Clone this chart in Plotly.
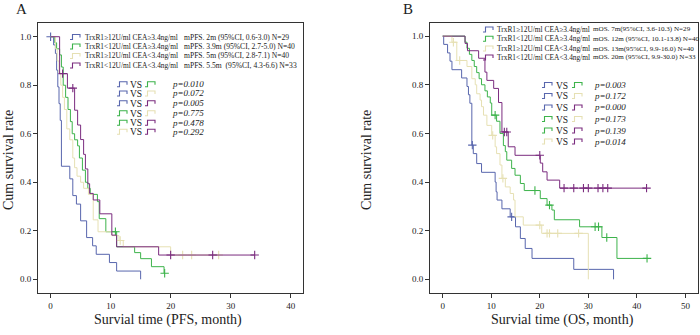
import plotly.graph_objects as go

W, H = 700, 335

# ---------------- DATA ----------------
series_names = ["TrxR1\u226512U/ml CEA\u22653.4ng/ml", "TrxR1<12U/ml CEA\u22653.4ng/ml",
                "TrxR1\u226512U/ml CEA<3.4ng/ml", "TrxR1<12U/ml CEA<3.4ng/ml"]
pfs_stats = ["mPFS. 2m (95%CI, 0.6-3.0) N=29", "mPFS. 3.9m (95%CI, 2.7-5.0) N=40",
             "mPFS. 5m (95%CI, 2.8-7.1) N=40", "mPFS. 5.5m  (95%CI, 4.3-6.6) N=33"]
os_stats = ["mOS. 7m(95%CI, 3.6-10.3) N=29", "mOS. 12m (95%CI, 10.1-13.8) N=40",
            "mOS. 13m(95%CI, 9.9-16.0) N=40", "mOS. 20m (95%CI, 9.9-30.0) N=33"]
pairs = [(0, 1), (0, 2), (0, 3), (1, 2), (1, 3), (2, 3)]
pfs_p = ["p=0.010", "p=0.072", "p=0.005", "p=0.775", "p=0.478", "p=0.292"]
os_p = ["p=0.003", "p=0.172", "p=0.000", "p=0.173", "p=0.139", "p=0.014"]

# PFS curves
pfs_blue_t = [0, 0.5, 0.8, 1.0, 1.2, 1.4, 1.6, 1.8, 3.2, 3.7, 4.3, 5.0, 6.0, 7.0, 7.6, 9.8, 11.0, 15.0]
pfs_blue_s = [1.0, 0.966, 0.931, 0.862, 0.793, 0.724, 0.655, 0.466, 0.414, 0.345, 0.310, 0.241, 0.172, 0.138, 0.103, 0.069, 0.034, 0.0]
pfs_blue_c = [0]
pfs_green_t = [0, 0.7, 1.0, 1.5, 1.8, 2.1, 2.5, 2.9, 3.3, 3.6, 4.0, 4.5, 4.8, 5.3, 5.8, 6.2, 6.6, 7.8, 8.1, 9.2, 11.0, 14.0, 15.0, 16.8, 18.9]
pfs_green_s = [1.0, 0.975, 0.95, 0.925, 0.875, 0.8, 0.75, 0.7, 0.65, 0.6, 0.575, 0.55, 0.5, 0.45, 0.4, 0.375, 0.35, 0.32, 0.25, 0.196, 0.134, 0.11, 0.085, 0.052, 0.025]
pfs_green_c = [10.8, 19.0]
pfs_beige_t = [0, 0.8, 1.1, 1.4, 1.7, 2.0, 2.3, 2.7, 3.2, 3.7, 4.0, 4.4, 5.0, 5.5, 6.3, 7.1, 7.9, 10.2, 11.4, 12.1, 20.0]
pfs_beige_s = [1.0, 0.95, 0.9, 0.85, 0.8, 0.75, 0.7, 0.62, 0.575, 0.5, 0.46, 0.425, 0.4, 0.375, 0.35, 0.245, 0.196, 0.18, 0.16, 0.134, 0.1]
pfs_beige_c = [11.6, 22.0, 23.5, 28.0]
pfs_purple_t = [0, 1.5, 2.8, 4.0, 4.5, 5.0, 5.5, 5.8, 6.2, 6.5, 7.1, 8.2, 10.2, 11.0, 18.0]
pfs_purple_s = [1.0, 0.848, 0.788, 0.697, 0.636, 0.576, 0.515, 0.455, 0.394, 0.354, 0.327, 0.27, 0.182, 0.134, 0.1]
pfs_purple_c = [2.0, 3.7, 20.0, 27.0, 34.0]

# OS curves
os_blue_t = [0, 0.2, 1.0, 1.5, 1.9, 3.9, 5.0, 5.3, 5.6, 6.0, 6.3, 7.0, 8.0, 10.8, 11.0, 11.2, 12.2, 13.9, 15.0, 16.0, 17.0, 18.4, 27.0, 35.2]
os_blue_s = [1.0, 0.966, 0.931, 0.897, 0.862, 0.828, 0.793, 0.759, 0.724, 0.552, 0.517, 0.476, 0.44, 0.40, 0.36, 0.326, 0.29, 0.257, 0.216, 0.168, 0.127, 0.086, 0.041, 0.0]
os_blue_c = [6.1, 14.2]
os_green_t = [0, 4.6, 5.0, 5.5, 6.0, 6.5, 7.0, 7.5, 8.0, 8.7, 9.2, 9.8, 10.1, 11.1, 11.8, 12.5, 12.9, 13.2, 14.2, 14.9, 16.0, 16.8, 20.1, 21.5, 22.5, 23.0, 28.2, 32.8, 35.9]
os_green_s = [1.0, 0.975, 0.95, 0.925, 0.9, 0.875, 0.85, 0.825, 0.8, 0.775, 0.75, 0.725, 0.675, 0.65, 0.6, 0.55, 0.525, 0.49, 0.456, 0.428, 0.394, 0.365, 0.332, 0.305, 0.285, 0.245, 0.216, 0.172, 0.086]
os_green_c = [10.8, 19.0, 22.0, 31.4, 32.1, 33.8, 42.1]
os_beige_t = [0, 1.9, 2.9, 5.0, 6.0, 6.7, 7.0, 7.7, 8.0, 8.4, 9.1, 10.1, 10.8, 11.1, 11.8, 12.2, 12.9, 13.9, 14.6, 14.9, 16.6, 20.4, 30.0]
os_beige_s = [1.0, 0.975, 0.9, 0.875, 0.825, 0.8, 0.763, 0.737, 0.71, 0.675, 0.633, 0.592, 0.545, 0.517, 0.47, 0.415, 0.38, 0.353, 0.326, 0.257, 0.223, 0.189, 0.0]
os_beige_c = [2.2, 3.5, 10.3, 12.4, 20.0, 21.5, 22.0, 23.7, 28.0]
os_purple_t = [0, 4.6, 5.1, 7.4, 8.7, 9.1, 10.5, 11.5, 12.2, 13.5, 14.9, 20.1, 20.6, 21.5, 24.1]
os_purple_s = [1.0, 0.97, 0.94, 0.909, 0.852, 0.818, 0.785, 0.727, 0.606, 0.545, 0.51, 0.478, 0.442, 0.408, 0.375]
os_purple_c = [12.7, 13.2, 20.0, 25.0, 27.0, 29.0, 30.0, 32.0, 33.0, 34.0, 42.0]

x_ticks_pfs = [0, 10, 20, 30, 40]
x_ticks_os = [0, 10, 20, 30, 40, 50]
y_ticks = [0.0, 0.2, 0.4, 0.6, 0.8, 1.0]
y_tick_text = ["0.0", "0.2", "0.4", "0.6", "0.8", "1.0"]

# ---------------- STYLE ----------------
colors = ["#5866ad", "#3db34b", "#e6e0b3", "#7b2c7f"]
FONT = "Liberation Serif"

pfs_curves = [(pfs_blue_t, pfs_blue_s, pfs_blue_c), (pfs_green_t, pfs_green_s, pfs_green_c),
              (pfs_beige_t, pfs_beige_s, pfs_beige_c), (pfs_purple_t, pfs_purple_s, pfs_purple_c)]
os_curves = [(os_blue_t, os_blue_s, os_blue_c), (os_green_t, os_green_s, os_green_c),
             (os_beige_t, os_beige_s, os_beige_c), (os_purple_t, os_purple_s, os_purple_c)]

fig = go.Figure()


def surv_at(ts, ss, tc):
    v = ss[0]
    for t, s in zip(ts, ss):
        if t <= tc:
            v = s
    return v


def add_curves(curves, xa, ya):
    for (ts, ss, cs), col in zip(curves, colors):
        xs = list(ts)
        ys = list(ss)
        if cs and max(cs) > xs[-1]:
            xs.append(max(cs))
            ys.append(ys[-1])
        fig.add_trace(go.Scatter(x=xs, y=ys, mode="lines", line=dict(color=col, width=1.0, shape="hv"),
                                 xaxis=xa, yaxis=ya, showlegend=False, hoverinfo="skip"))
        fig.add_trace(go.Scatter(x=cs, y=[surv_at(ts, ss, c) for c in cs], mode="markers",
                                 marker=dict(symbol="cross-thin", size=6, line=dict(color=col, width=1.1)),
                                 xaxis=xa, yaxis=ya, showlegend=False, hoverinfo="skip"))


add_curves(pfs_curves, "x", "y")
add_curves(os_curves, "x2", "y2")

shapes = []
annotations = []


def px(x):
    return x / W


def py(y):
    return 1 - y / H


def icon(x0, yc, col, w=10):
    yb = yc + 2.5
    yt = yc - 2.5
    pts = [(x0, yb), (x0 + 2.5, yb), (x0 + 2.5, yt), (x0 + w, yt), (x0 + w, yc + 0.5)]
    path = "M " + " L ".join(f"{px(a):.5f},{py(b):.5f}" for a, b in pts)
    shapes.append(dict(type="path", path=path, xref="paper", yref="paper",
                       line=dict(color=col, width=1.1)))


def text(x, y, s, size, anchor="left", italic=False, angle=0):
    annotations.append(dict(x=px(x), y=py(y), xref="paper", yref="paper", text=s, showarrow=False,
                            xanchor=anchor, yanchor="middle", textangle=angle, borderpad=0,
                            font=dict(family=FONT, size=size, color="#222",
                                      style="italic" if italic else "normal")))


# Legend A
rowsA = [37, 46.5, 56, 65.5]
for i, r in enumerate(rowsA):
    icon(70, r, colors[i])
    text(84, r, series_names[i], 7.4)
    text(183, r, pfs_stats[i], 7.6)
prowsA = [84.3, 93.5, 103.3, 113.3, 122.7, 131.7]
for (a, b), r, p in zip(pairs, prowsA, pfs_p):
    icon(117, r, colors[a])
    text(129, r + 0.5, "VS", 9.5)
    icon(145, r, colors[b])
    text(171, r, p, 9, italic=True)

# Legend B
rowsB = [29.5, 38.8, 48.5, 57.5]
for i, r in enumerate(rowsB):
    icon(483, r, colors[i])
    text(496, r, series_names[i], 7.4)
    text(592, r, os_stats[i], 7.1)
prowsB = [85, 96, 107.5, 119, 130.5, 141.5]
for (a, b), r, p in zip(pairs, prowsB, os_p):
    icon(542, r, colors[a])
    text(555, r + 0.5, "VS", 9.5)
    icon(572, r, colors[b])
    text(593, r, p, 9, italic=True)

# panel letters and axis titles
text(15, 9, "A", 15)
text(402, 9, "B", 15)
text(8, 160, "Cum survival rate", 14, anchor="center", angle=-90)
text(366, 160, "Cum survival rate", 14, anchor="center", angle=-90)
text(168, 320, "Survial time (PFS, month)", 14, anchor="center")
text(562, 320, "Survial time (OS, month)", 14, anchor="center")

axis_common = dict(showline=True, mirror=True, linecolor="#333", linewidth=1, ticks="outside",
                   ticklen=4, tickwidth=1, tickcolor="#333", showgrid=False, zeroline=False,
                   tickfont=dict(family=FONT, size=9, color="#222"))

ydom = [1 - 293 / H, 1 - 23 / H]
fig.update_layout(
    width=W, height=H, margin=dict(l=0, r=0, t=0, b=0),
    paper_bgcolor="white", plot_bgcolor="white",
    xaxis=dict(domain=[38 / W, 303 / W], range=[-2.1, 42.05], tickvals=x_ticks_pfs, anchor="y", **axis_common),
    yaxis=dict(domain=ydom, range=[-0.0565, 1.0565], tickvals=y_ticks, ticktext=y_tick_text, anchor="x", **axis_common),
    xaxis2=dict(domain=[430 / W, 698 / W], range=[-2.62, 52.6], tickvals=x_ticks_os, anchor="y2", **axis_common),
    yaxis2=dict(domain=ydom, range=[-0.0562, 1.054], tickvals=y_ticks, ticktext=y_tick_text, anchor="x2", **axis_common),
    shapes=shapes, annotations=annotations, showlegend=False,
)

fig.write_html("out.html", config={"displayModeBar": False},
               post_script="document.body.style.margin='0';document.body.style.overflow='hidden';")
